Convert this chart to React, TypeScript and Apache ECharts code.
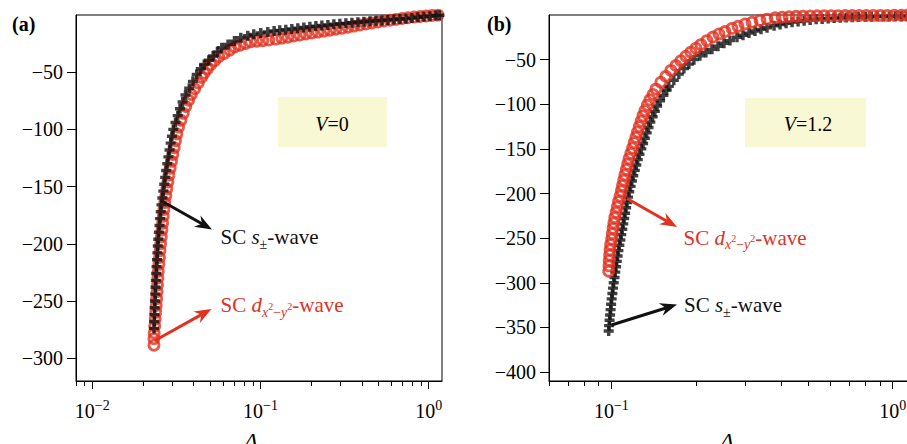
import React, { useEffect, useRef } from 'react';
import * as echarts from 'echarts';

const FONT = 'Liberation Serif';
const BLACK = '#111111';
const RED = '#e2311f';

// ---------- Panel (a): V = 0 ----------
// SC s±-wave (black plus markers)
const deltaSA = [
  0.02328, 0.02335, 0.02341, 0.02348, 0.02358, 0.02367, 0.02377, 0.02388, 0.02398, 0.02411,
  0.02425, 0.02438, 0.02452, 0.02467, 0.02488, 0.02509, 0.0253, 0.02552, 0.02577, 0.02609,
  0.02643, 0.02676, 0.02711, 0.02748, 0.02791, 0.02835, 0.02879, 0.02924, 0.02974, 0.0303,
  0.03124, 0.03221, 0.03321, 0.03443, 0.03581, 0.03769, 0.03964, 0.04176,
  0.04417, 0.04628, 0.04923, 0.05228, 0.05546, 0.05882, 0.06412, 0.07001, 0.07634,
  0.08402, 0.09124, 0.1004, 0.1105, 0.1205,
  0.1302, 0.1414, 0.1536, 0.1667, 0.181, 0.1966, 0.2134, 0.2317, 0.2516, 0.2731,
  0.2965, 0.3219, 0.3496, 0.3795, 0.412, 0.4473, 0.4857, 0.5273, 0.5725, 0.6217,
  0.6749, 0.7328, 0.7954, 0.8635, 0.9376, 1.018, 1.105, 1.156,
];
const energySA = [
  -274, -268, -262, -256, -250, -244, -238, -232, -226, -220,
  -214, -208, -202, -196, -190, -184, -178, -172, -166, -160,
  -154, -148, -142, -136, -130, -124, -118, -112, -106, -100,
  -94, -88, -82, -76, -70, -64, -58, -52,
  -47, -43.3, -39.5, -35.8, -32.2, -28.6, -25.7, -22.8, -19.9,
  -18.1, -16.9, -15.8, -14.8, -14.0,
  -13.4, -12.8, -12.2, -11.5, -10.9, -10.2, -9.7, -9.2, -8.7, -8.1,
  -7.7, -7.3, -6.8, -6.4, -6.0, -5.5, -5.1, -4.7, -4.3, -3.9,
  -3.5, -3.2, -2.6, -2.0, -1.5, -1.0, -0.4, -0.2,
];
// SC d_{x²−y²}-wave (red open circles)
const deltaDA = [
  0.02326, 0.02326, 0.02333,
  0.0235, 0.02366, 0.02384, 0.024, 0.02414, 0.02427, 0.02441, 0.02455, 0.02469, 0.02489,
  0.02509, 0.02529, 0.02549, 0.02572, 0.02595, 0.02618, 0.02642, 0.02666, 0.02699, 0.02737,
  0.02775, 0.02815, 0.02855, 0.02904, 0.02959, 0.03013, 0.03069, 0.03125, 0.03183, 0.03258,
  0.03366, 0.03477, 0.03593,
  0.03738, 0.03873, 0.04063, 0.04263, 0.04467, 0.04628, 0.04842, 0.0506, 0.05337, 0.05646,
  0.06089, 0.06555, 0.07029, 0.07551, 0.08152, 0.08755, 0.09506, 0.1032, 0.1121,
  0.1234, 0.1339, 0.1454, 0.1579, 0.1714, 0.1861, 0.202, 0.2194, 0.2381, 0.2585,
  0.2807, 0.3047, 0.3308, 0.3592, 0.3899, 0.4233, 0.4596, 0.499, 0.5417, 0.5881,
  0.6386, 0.6933, 0.7527, 0.8176, 0.8877, 0.9636, 1.046, 1.136,
];
const energyDA = [
  -288.7, -283, -278,
  -272, -266, -260, -254, -248, -242, -236, -230, -224, -218,
  -212, -206, -200, -194, -188, -182, -176, -170, -164, -158,
  -152, -146, -140, -134, -128, -122, -116, -110, -104, -98,
  -92, -86, -80,
  -74.5, -69.5, -64.5, -59.5, -54.5, -50.8, -47, -43.3, -40, -36.5,
  -33.6, -30.7, -28, -26.5, -24.9, -23.4, -22.9, -22.4, -21.9,
  -21.1, -20.2, -19.4, -18.4, -17.5, -16.6, -15.8, -15.0, -14.1, -13.3,
  -12.4, -11.6, -10.7, -9.7, -8.8, -7.9, -7.0, -6.1, -5.3, -4.6,
  -3.8, -3.0, -2.4, -1.8, -1.3, -0.8, -0.3, -0.1,
];

// ---------- Panel (b): V = 1.2 ----------
const deltaSB = [
  0.09781, 0.09813, 0.09854, 0.09894, 0.09935, 0.09975, 0.1002, 0.1008, 0.1013, 0.1019,
  0.1026, 0.1032, 0.1039, 0.1045, 0.1052, 0.1059, 0.1067, 0.1076, 0.1084, 0.1093,
  0.1102, 0.111, 0.1119, 0.1128, 0.1137, 0.1146, 0.1157, 0.117, 0.1183, 0.1196,
  0.1211, 0.1226, 0.1241, 0.1258, 0.1277, 0.1296, 0.1315, 0.1335, 0.1355, 0.1375,
  0.1401, 0.1427, 0.1454, 0.1489, 0.153, 0.1572,
  0.16, 0.1667, 0.1737, 0.181, 0.1886, 0.1965, 0.2064, 0.2168, 0.2277, 0.2392,
  0.2512, 0.2639, 0.2795, 0.2936, 0.3084, 0.3239, 0.3403, 0.3574, 0.3786, 0.3977,
  0.4177, 0.4388, 0.4609, 0.4842, 0.5086, 0.5342, 0.5612, 0.5894, 0.6192, 0.6504,
  0.6832, 0.7177, 0.7539, 0.7987, 0.839, 0.8813, 0.9258, 0.9725, 1.0216, 1.0731,
  1.1272, 1.1841,
];
const energySB = [
  -354, -348, -342, -336, -330, -324, -318, -312, -306, -300,
  -294, -288, -282, -276, -270, -264, -258, -252, -246, -240,
  -234, -228, -222, -216, -210, -204, -198, -192, -186, -180,
  -174, -168, -162, -156, -150, -144, -138, -132, -126, -120,
  -114, -108, -102, -96, -90, -84,
  -80, -73.1, -66.2, -60, -55, -50, -45.6, -42.1, -38.5, -35,
  -31.7, -28.7, -25, -22.7, -20.3, -18, -16.1, -14.2, -12, -10.7,
  -9.3, -8, -7.2, -6.4, -5.7, -4.9, -4.4, -3.9, -3.5, -3.0,
  -2.8, -2.5, -2.3, -2.0, -1.9, -1.8, -1.7, -1.6, -1.5, -1.4,
  -1.3, -1.2,
];
const deltaDB = [
  0.09781, 0.09801, 0.09821, 0.09854, 0.09886, 0.09935, 0.1002, 0.1007, 0.1014, 0.102,
  0.1028, 0.1039, 0.1049, 0.106, 0.1073, 0.1085, 0.1095, 0.1106, 0.1117, 0.113,
  0.1142, 0.1155, 0.1172, 0.1189, 0.1205, 0.1222, 0.1238, 0.1256, 0.1275, 0.1294,
  0.1316, 0.1342, 0.137, 0.1406, 0.144,
  0.1499, 0.1561, 0.1627, 0.1695, 0.1766, 0.1839, 0.1917, 0.1997, 0.2081, 0.2185,
  0.2296, 0.2412, 0.2533, 0.2683, 0.2818, 0.2985, 0.3161, 0.3375, 0.3574, 0.3817,
  0.4044, 0.4281, 0.4534, 0.4802, 0.5086, 0.5386, 0.5704, 0.6041, 0.6398, 0.6778,
  0.7177, 0.7604, 0.8053, 0.853, 0.9033, 0.9567, 1.0132, 1.0731, 1.1272, 1.1841,
];
const energyDB = [
  -287, -281, -275, -269, -263, -257, -251, -245, -239, -233,
  -227, -221, -215, -209, -203, -197, -191, -185, -179, -173,
  -167, -161, -155, -149, -143, -137, -131, -125, -119, -113,
  -107, -101, -95, -89, -83,
  -75.3, -68.7, -62, -56.6, -51.2, -46.2, -41.6, -37.2, -33.2, -28.7,
  -24.7, -21.2, -18.5, -15, -12.7, -10, -8.1, -6, -4.6, -3,
  -2.5, -2.0, -1.5, -1.3, -1.1, -0.9, -0.8, -0.75, -0.7, -0.6,
  -0.55, -0.5, -0.5, -0.45, -0.4, -0.4, -0.35, -0.35, -0.3, -0.3,
];

// ---------- Axes ----------
const xRangeA = [0.008, 1.2];
const yRangeA = [-320, 0];
const xRangeB = [0.06, 1.2];
const yRangeB = [-410, 0];
const yTicksA = [-300, -250, -200, -150, -100, -50];
const yTicksB = [-400, -350, -300, -250, -200, -150, -100, -50];
const xMajorA = [0.01, 0.1, 1];
const xMinorA = [0.008, 0.009, 0.02, 0.03, 0.04, 0.05, 0.06, 0.07, 0.08, 0.09, 0.2, 0.3, 0.4, 0.5, 0.6, 0.7, 0.8, 0.9];
const xMajorB = [0.1, 1];
const xMinorB = [0.06, 0.07, 0.08, 0.09, 0.2, 0.3, 0.4, 0.5, 0.6, 0.7, 0.8, 0.9];

const lg = Math.log10;
const PLUS = 'path://M3.3,0H6.7V3.3H10V6.7H6.7V10H3.3V6.7H0V3.3H3.3Z';

function pts(d: number[], e: number[]) {
  return d.map((v, i) => [lg(v), e[i]]);
}

function minusFmt(v: number) {
  return v < 0 ? '\u2212' + Math.abs(v) : String(v);
}

function xAxes(gridIndex: number, range: number[], major: number[], minor: number[], namePad: number) {
  const min = lg(range[0]);
  const max = lg(range[1]);
  return [
    {
      type: 'value', gridIndex, position: 'bottom', min, max,
      axisLine: { show: true, onZero: false, lineStyle: { color: '#000', width: 1 } },
      axisTick: { show: true, length: 8, customValues: major.map(lg), lineStyle: { color: '#000', width: 1 } },
      axisLabel: {
        customValues: major.map(lg), margin: 17,
        formatter: (v: number) => `{b|10}{s|${minusFmt(Math.round(v))}}`,
        rich: {
          b: { fontSize: 20, fontFamily: FONT, color: '#000', lineHeight: 26 },
          s: { fontSize: 14, fontFamily: FONT, color: '#000', verticalAlign: 'top', lineHeight: 16 },
        },
      },
      splitLine: { show: false },
      name: '\u0394', nameLocation: 'middle', nameGap: 48,
      nameTextStyle: { fontFamily: FONT, fontSize: 22, fontStyle: 'italic', color: '#000', padding: [0, namePad, 0, 0] },
    },
    {
      type: 'value', gridIndex, position: 'bottom', min, max,
      axisLine: { show: false, onZero: false },
      axisTick: { show: true, length: 5, customValues: minor.map(lg), lineStyle: { color: '#000', width: 1 } },
      axisLabel: { show: false },
      splitLine: { show: false },
    },
  ];
}

function yAxis(gridIndex: number, range: number[], ticks: number[]) {
  return {
    type: 'value', gridIndex, min: range[0], max: range[1],
    axisLine: { show: true, onZero: false, lineStyle: { color: '#000', width: 1 } },
    axisTick: { show: true, length: 9, customValues: ticks, lineStyle: { color: '#000', width: 1 } },
    axisLabel: { customValues: ticks, margin: 13, fontSize: 20, fontFamily: FONT, color: '#000', formatter: minusFmt },
    splitLine: { show: false },
  };
}

function arrow(x1: number, y1: number, x2: number, y2: number, color: string) {
  const dx = x2 - x1;
  const dy = y2 - y1;
  const len = Math.hypot(dx, dy);
  const ux = dx / len;
  const uy = dy / len;
  const nx = -uy;
  const ny = ux;
  const L = 17;
  const W = 13;
  const bx = x2 - ux * L;
  const by = y2 - uy * L;
  const kx = x2 - ux * L * 0.68;
  const ky = y2 - uy * L * 0.68;
  return [
    { type: 'line', shape: { x1, y1, x2: kx, y2: ky }, style: { stroke: color, lineWidth: 3 }, z: 10 },
    {
      type: 'polygon',
      shape: { points: [[x2, y2], [bx + nx * W / 2, by + ny * W / 2], [kx, ky], [bx - nx * W / 2, by - ny * W / 2]] },
      style: { fill: color },
      z: 10,
    },
  ];
}

const labelRich = (color: string) => ({
  r: { fontSize: 21, fontFamily: FONT, fill: color, lineHeight: 28 },
  i: { fontSize: 21, fontFamily: FONT, fontStyle: 'italic', fill: color, lineHeight: 28 },
  sb: { fontSize: 14, fontFamily: FONT, fill: color, lineHeight: 14, verticalAlign: 'bottom' },
  si: { fontSize: 14, fontFamily: FONT, fontStyle: 'italic', fill: color, lineHeight: 14, verticalAlign: 'bottom' },
  ss: { fontSize: 10, fontFamily: FONT, fill: color, lineHeight: 10, verticalAlign: 'bottom', padding: [0, 0, 8, 0] },
});

const S_LABEL = '{r|SC }{i|s}{sb|\u00b1}{r|-wave}';
const D_LABEL = '{r|SC }{i|d}{si|x}{ss|2}{sb|\u2212}{si|y}{ss|2}{r|-wave}';

function seriesLabel(x: number, y: number, text: string, color: string) {
  return {
    type: 'text', x, y, z: 10,
    style: { text, rich: labelRich(color), align: 'left', verticalAlign: 'middle' },
  };
}

function vLabel(x: number, y: number, val: string) {
  return {
    type: 'text', x, y, z: 10,
    style: {
      text: `{i|V}{r|=${val}}`,
      align: 'center', verticalAlign: 'middle',
      rich: {
        i: { fontSize: 20, fontFamily: FONT, fontStyle: 'italic', fill: '#000' },
        r: { fontSize: 20, fontFamily: FONT, fill: '#000' },
      },
    },
  };
}

const circleStyle = { color: 'rgba(255,255,255,0)', borderColor: RED, borderWidth: 2.8 };

const gridBase = {
  top: 15, width: 366, height: 366, show: true, borderColor: '#000', borderWidth: 1,
  backgroundColor: 'transparent', containLabel: false, outerBoundsMode: 'none',
};

function buildOption() {
  return {
    animation: false,
    backgroundColor: '#ffffff',
    textStyle: { fontFamily: FONT },
    grid: [
      { ...gridBase, left: 76 },
      { ...gridBase, left: 549 },
    ],
    xAxis: [
      ...xAxes(0, xRangeA, xMajorA, xMinorA, 16),
      ...xAxes(1, xRangeB, xMajorB, xMinorB, 10),
    ],
    yAxis: [yAxis(0, yRangeA, yTicksA), yAxis(1, yRangeB, yTicksB)],
    series: [
      {
        type: 'scatter', name: 'SC d-wave (V=0)', xAxisIndex: 0, yAxisIndex: 0,
        data: pts(deltaDA, energyDA), symbol: 'circle', symbolSize: 10, clip: false, silent: true,
        itemStyle: circleStyle,
      },
      {
        type: 'scatter', name: 'SC s±-wave (V=0)', xAxisIndex: 0, yAxisIndex: 0,
        data: pts(deltaSA, energySA), symbol: PLUS, symbolSize: 10, clip: false, silent: true,
        itemStyle: { color: BLACK },
      },
      {
        type: 'scatter', name: 'SC s±-wave (V=1.2)', xAxisIndex: 2, yAxisIndex: 1,
        data: pts(deltaSB, energySB), symbol: PLUS, symbolSize: 10, clip: false, silent: true,
        itemStyle: { color: BLACK },
      },
      {
        type: 'scatter', name: 'SC d-wave (V=1.2)', xAxisIndex: 2, yAxisIndex: 1,
        data: pts(deltaDB, energyDB), symbol: 'circle', symbolSize: 10, clip: false, silent: true,
        itemStyle: circleStyle,
      },
    ],
    graphic: [
      { type: 'text', x: 12, y: 24, style: { text: '(a)', font: `bold 20px "${FONT}"`, fill: '#000', align: 'left', verticalAlign: 'middle' } },
      { type: 'text', x: 487, y: 24, style: { text: '(b)', font: `bold 20px "${FONT}"`, fill: '#000', align: 'left', verticalAlign: 'middle' } },
      { type: 'rect', shape: { x: 278, y: 97, width: 109, height: 50 }, style: { fill: '#f8f8d4' }, z: 1 },
      { type: 'rect', shape: { x: 745, y: 98, width: 121, height: 49 }, style: { fill: '#f8f8d4' }, z: 1 },
      vLabel(332, 123.5, '0'),
      vLabel(808, 123.5, '1.2'),
      ...arrow(163.5, 202, 212, 229.5, BLACK),
      ...arrow(155, 340.5, 211.5, 309, RED),
      ...arrow(627, 198.5, 677, 227, RED),
      ...arrow(611.5, 325, 677, 304.5, BLACK),
      seriesLabel(220.5, 237, S_LABEL, BLACK),
      seriesLabel(220.5, 305, D_LABEL, RED),
      seriesLabel(683.5, 237.5, D_LABEL, RED),
      seriesLabel(684, 305, S_LABEL, BLACK),
    ],
  };
}

export default function App() {
  const ref = useRef<HTMLDivElement>(null);
  useEffect(() => {
    if (!ref.current) return;
    const chart = echarts.init(ref.current, null, { renderer: 'svg' });
    chart.setOption(buildOption() as any);
    return () => {
      chart.dispose();
    };
  }, []);
  return (
    <div
      ref={ref}
      style={{ position: 'fixed', left: 0, top: 0, width: 907, height: 444, background: '#fff', overflow: 'hidden' }}
    />
  );
}
